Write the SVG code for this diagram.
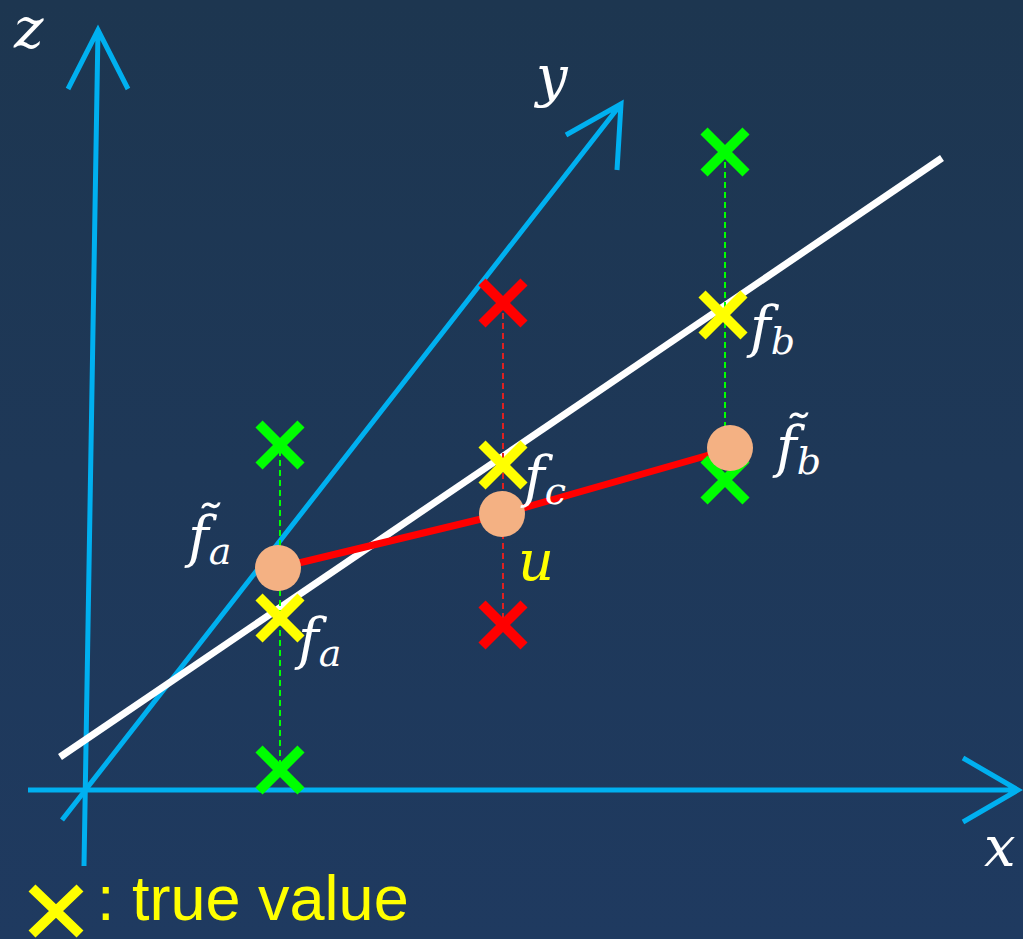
<svg xmlns="http://www.w3.org/2000/svg" width="1023" height="939" viewBox="0 0 1023 939">
<defs>
<linearGradient id="bg" x1="0" y1="0" x2="0" y2="1">
<stop offset="0" stop-color="#1d3650"/>
<stop offset="1" stop-color="#1f3a60"/>
</linearGradient>
<style>
.ax{stroke:#00b0f0;stroke-width:5;fill:none;stroke-linecap:butt}
.xm{stroke-width:10;fill:none}
.g{stroke:#00ff00}
.r{stroke:#ff0000}
.yl{stroke:#ffff00}
.m{font-family:"DejaVu Serif","Liberation Serif",serif;font-style:italic;fill:#ffffff;font-size:56px}
.s{font-size:38px}
.dot{fill:#f4b183}
</style>
</defs>
<rect width="1023" height="939" fill="url(#bg)"/>
<g id="connectors">
<path class="ax" d="M84 866 L98 30 M68 89 L98 30 L128 89"/>
<path class="ax" d="M28 790 L1018 790 M963 758 L1018 790 L963 822"/>
<path class="ax" d="M62 820 L621 104 M566 135 L621 104 L617 170"/>
<path d="M60 757 L942 158" stroke="#ffffff" stroke-width="7" fill="none"/>
<path d="M280 440 V770 M725 152 V470" stroke="#00ff00" stroke-width="2" stroke-dasharray="6 4" fill="none"/>
<path d="M503 303 V625" stroke="#e02020" stroke-width="2" stroke-dasharray="6 4" fill="none"/>
<path d="M278 568 L502 514 L730 449" stroke="#ff0000" stroke-width="7" fill="none"/>
</g>
<g id="green-marks">
<path class="xm g" d="M259 424 L301 466 M301 424 L259 466"/>
<path class="xm g" d="M259 749 L301 791 M301 749 L259 791"/>
<path class="xm g" d="M704 131 L746 173 M746 131 L704 173"/>
<path class="xm g" d="M704 459 L746 501 M746 459 L704 501"/>
</g>
<g id="red-marks">
<path class="xm r" d="M482 282 L524 324 M524 282 L482 324"/>
<path class="xm r" d="M482 604 L524 646 M524 604 L482 646"/>
</g>
<g id="yellow-marks">
<path class="xm yl" d="M259 597 L301 639 M301 597 L259 639"/>
<path class="xm yl" d="M482 444 L524 486 M524 444 L482 486"/>
<path class="xm yl" d="M702 294 L744 336 M744 294 L702 336"/>
</g>
<g id="points">
<circle class="dot" cx="278" cy="568" r="23"/>
<circle class="dot" cx="502" cy="514" r="23"/>
<circle class="dot" cx="730" cy="448" r="23"/>
</g>
<g id="labels">
<text class="m" x="14" y="48">z</text>
<text class="m" x="536" y="96">y</text>
<text class="m" x="984" y="866">x</text>
<text class="m" x="188" y="556">f̃<tspan class="s" dy="8">a</tspan></text>
<text class="m" x="298" y="658">f<tspan class="s" dy="8">a</tspan></text>
<text class="m" x="524" y="496">f<tspan class="s" dy="8">c</tspan></text>
<text class="m" x="750" y="346">f<tspan class="s" dy="8">b</tspan></text>
<text class="m" x="776" y="466">f̃<tspan class="s" dy="8">b</tspan></text>
<text class="m" x="518" y="580" style="fill:#ffff00">u</text>
</g>
<g id="legend">
<path class="xm yl" d="M32 888 L80 934 M80 888 L32 934"/>
<text x="97" y="920" font-family="Liberation Sans, Arial, sans-serif" font-size="63" fill="#ffff00">: true value</text>
</g>
</svg>
